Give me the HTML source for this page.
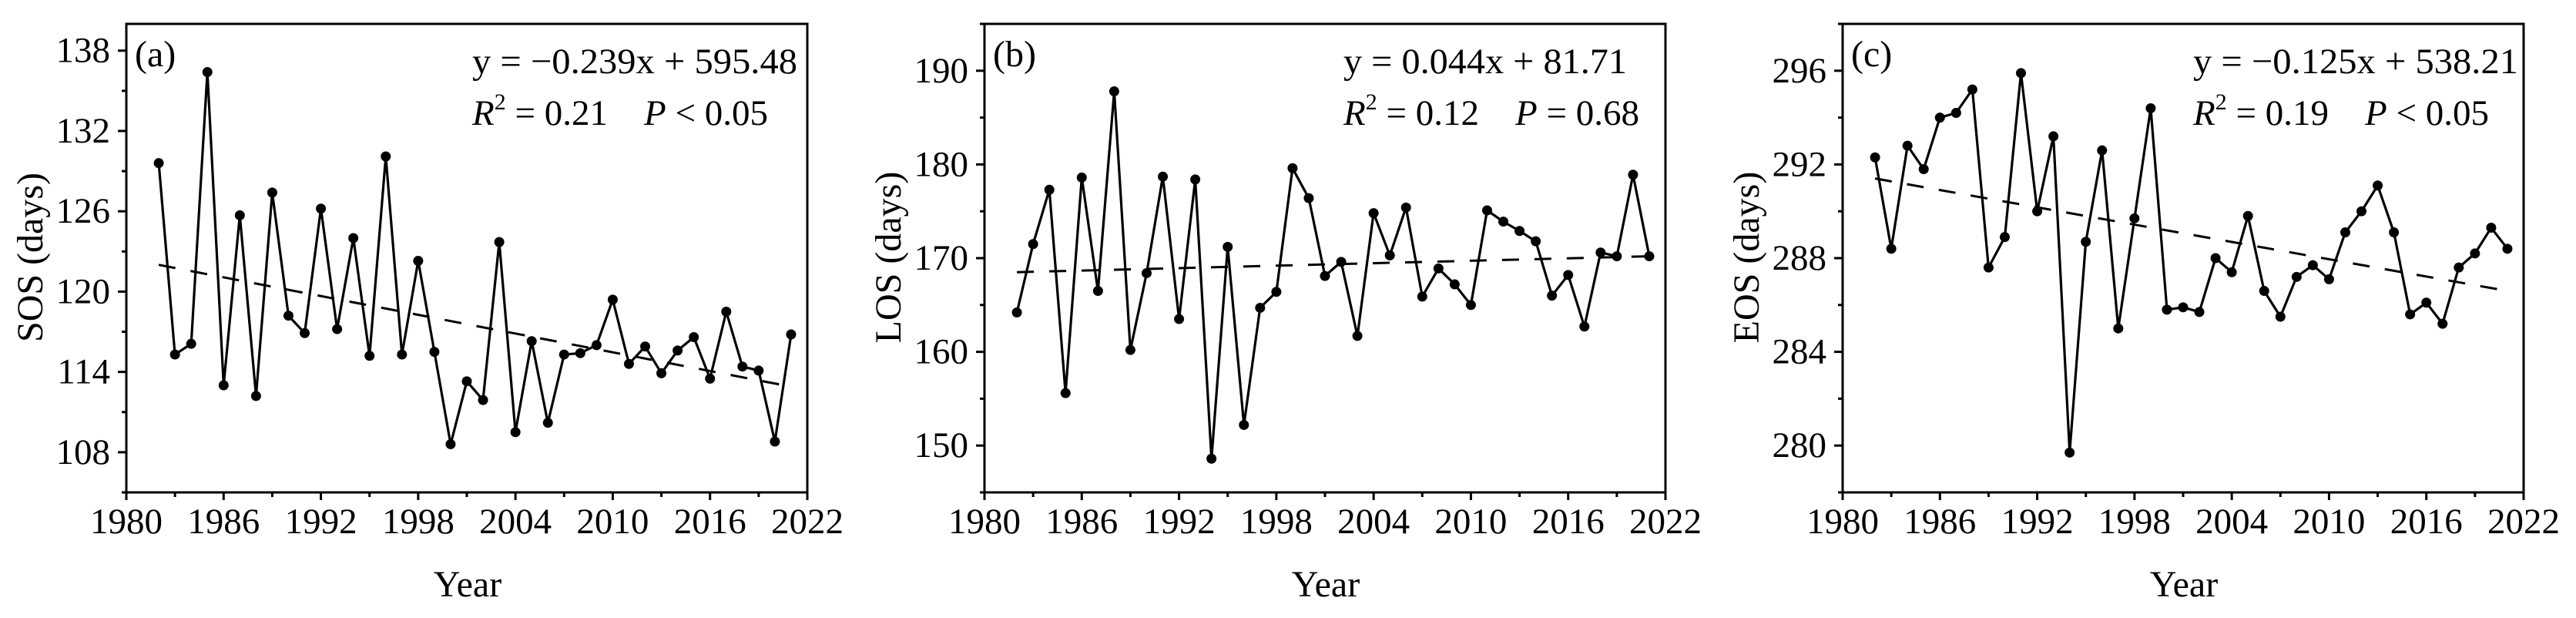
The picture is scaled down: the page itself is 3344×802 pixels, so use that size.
<!DOCTYPE html>
<html><head><meta charset="utf-8"><style>
html,body{margin:0;padding:0;background:#fff;}
svg{display:block;}
text{font-family:"Liberation Serif","Times New Roman",serif;fill:#000;}
</style></head>
<body>
<svg id="fig" width="3344" height="802" viewBox="0 0 3344 802" xmlns="http://www.w3.org/2000/svg"></svg>
<script>
const years = [1982,1983,1984,1985,1986,1987,1988,1989,1990,1991,1992,1993,1994,1995,1996,1997,1998,1999,2000,2001,2002,2003,2004,2005,2006,2007,2008,2009,2010,2011,2012,2013,2014,2015,2016,2017,2018,2019,2020,2021];
const sosValues = [129.6,115.3,116.1,136.4,113.0,125.7,112.2,127.4,118.2,116.9,126.2,117.2,124.0,115.2,130.1,115.3,122.3,115.5,108.6,113.3,111.9,123.7,109.5,116.3,110.2,115.3,115.4,116.0,119.4,114.6,115.9,113.9,115.6,116.6,113.5,118.5,114.4,114.1,108.8,116.8];
const losValues = [164.2,171.5,177.3,155.6,178.6,166.5,187.8,160.2,168.4,178.7,163.5,178.4,148.6,171.2,152.2,164.7,166.4,179.6,176.4,168.1,169.6,161.7,174.8,170.3,175.4,165.9,168.9,167.2,165.0,175.1,173.9,172.9,171.8,166.0,168.2,162.7,170.6,170.2,178.9,170.2];
const eosValues = [292.3,288.4,292.8,291.8,294.0,294.2,295.2,287.6,288.9,295.9,290.0,293.2,279.7,288.7,292.6,285.0,289.7,294.4,285.8,285.9,285.7,288.0,287.4,289.8,286.6,285.5,287.2,287.7,287.1,289.1,290.0,291.1,289.1,285.6,286.1,285.2,287.6,288.2,289.3,288.4];
const sosTrend = [122.0,112.9];
const losTrend = [168.5,170.2];
const eosTrend = [291.4,286.6];
const xTickLabels = ["1980","1986","1992","1998","2004","2010","2016","2022"];
const sosTickLabels = ["108","114","120","126","132","138"];
const losTickLabels = ["150","160","170","180","190"];
const eosTickLabels = ["280","284","288","292","296"];

const NS="http://www.w3.org/2000/svg";
const svg=document.getElementById('fig');
function mk(tag,attrs,parent){const e=document.createElementNS(NS,tag);for(const k in attrs)e.setAttribute(k,attrs[k]);(parent||svg).appendChild(e);return e;}

const panels=[
 {off:0,key:'sos',label:'(a)',ylab:'SOS (days)',vals:sosValues,trend:sosTrend,yt:sosTickLabels,ymin:105,ymax:140,minorStep:3,
  eq:'y = \u22120.239x + 595.48',eqX:613,eqW:422,r2:'0.21',p:'P < 0.05'},
 {off:1114,key:'los',label:'(b)',ylab:'LOS (days)',vals:losValues,trend:losTrend,yt:losTickLabels,ymin:145,ymax:195,minorStep:5,
  eq:'y = 0.044x + 81.71',eqX:630,eqW:368,r2:'0.12',p:'P = 0.68'},
 {off:2228,key:'eos',label:'(c)',ylab:'EOS (days)',vals:eosValues,trend:eosTrend,yt:eosTickLabels,ymin:278,ymax:298,minorStep:2,
  eq:'y = \u22120.125x + 538.21',eqX:619,eqW:422,r2:'0.19',p:'P < 0.05'}
];

panels.forEach(P=>{
 const L=164+P.off,R=1048+P.off,T=31,B=639;
 const xs=v=>L+(v-1980)/(2022-1980)*(R-L);
 const ys=v=>B-(v-P.ymin)/(P.ymax-P.ymin)*(B-T);
 const g=mk('g',{});
 
 
 const frame=mk('rect',{x:L,y:T,width:R-L,height:B-T,fill:'none',stroke:'#000','stroke-width':3},g);
 
 
 for(let yr=1980;yr<=2022;yr+=3){
  const major=(yr-1980)%6===0;
  const t=mk('line',{x1:xs(yr),x2:xs(yr),y1:B,y2:B+(major?10:6),stroke:'#000','stroke-width':3},g);
  
  
 }
 xTickLabels.forEach(s=>{
  const tx=mk('text',{x:xs(+s),y:692,'font-size':47,'text-anchor':'middle'},g);
  tx.textContent=s;
  
  
 });
 for(let v=P.ymin;v<=P.ymax+1e-9;v+=P.minorStep){
  const major=P.yt.indexOf(String(Math.round(v)))>=0;
  const t=mk('line',{x1:L-(major?11:6),x2:L,y1:ys(v),y2:ys(v),stroke:'#000','stroke-width':3},g);
  
  
 }
 P.yt.forEach(s=>{
  const tx=mk('text',{x:L-21,y:ys(+s)+15,'font-size':47,'text-anchor':'end'},g);
  tx.textContent=s;
  
  
 });
 const xt=mk('text',{x:607+P.off,y:774,'font-size':48,'text-anchor':'middle'},g);
 xt.textContent='Year';
 
 
 const yl=mk('text',{x:0,y:0,'font-size':48,'text-anchor':'middle',transform:`translate(${55+P.off},334) rotate(-90)`},g);
 yl.textContent=P.ylab;
 
 
 const pl=mk('text',{x:175+P.off,y:86,'font-size':48},g);
 pl.textContent=P.label;
 
 
 const eq=mk('text',{x:P.eqX+P.off,y:95,'font-size':47,textLength:P.eqW,lengthAdjust:'spacingAndGlyphs'},g);
 eq.textContent=P.eq;
 
 
 const st=mk('text',{x:P.eqX+P.off,y:162,'font-size':47},g);
 
 
 const px=P.eqX+P.off+223;
 st.innerHTML=`<tspan font-style="italic">R</tspan><tspan dy="-20" font-size="30">2</tspan><tspan dy="20"> = ${P.r2}</tspan><tspan x="${px}" font-style="italic">${P.p.split(' ')[0]}</tspan><tspan> ${P.p.split(' ').slice(1).join(' ')}</tspan>`;
 const tr=mk('line',{x1:xs(years[0]),y1:ys(P.trend[0]),x2:xs(years[years.length-1]),y2:ys(P.trend[1]),stroke:'#000','stroke-width':3,'stroke-dasharray':'22 20'},g);
 
 
 const pts=years.map((y,i)=>xs(y).toFixed(1)+','+ys(P.vals[i]).toFixed(1)).join(' ');
 const ln=mk('polyline',{points:pts,fill:'none',stroke:'#000','stroke-width':3.2,'stroke-linejoin':'miter'},g);
 
 
 years.forEach((y,i)=>{
  const c=mk('circle',{cx:xs(y),cy:ys(P.vals[i]),r:6.5,fill:'#000'},g);
  
  
 });
});
</script>
</body></html>
